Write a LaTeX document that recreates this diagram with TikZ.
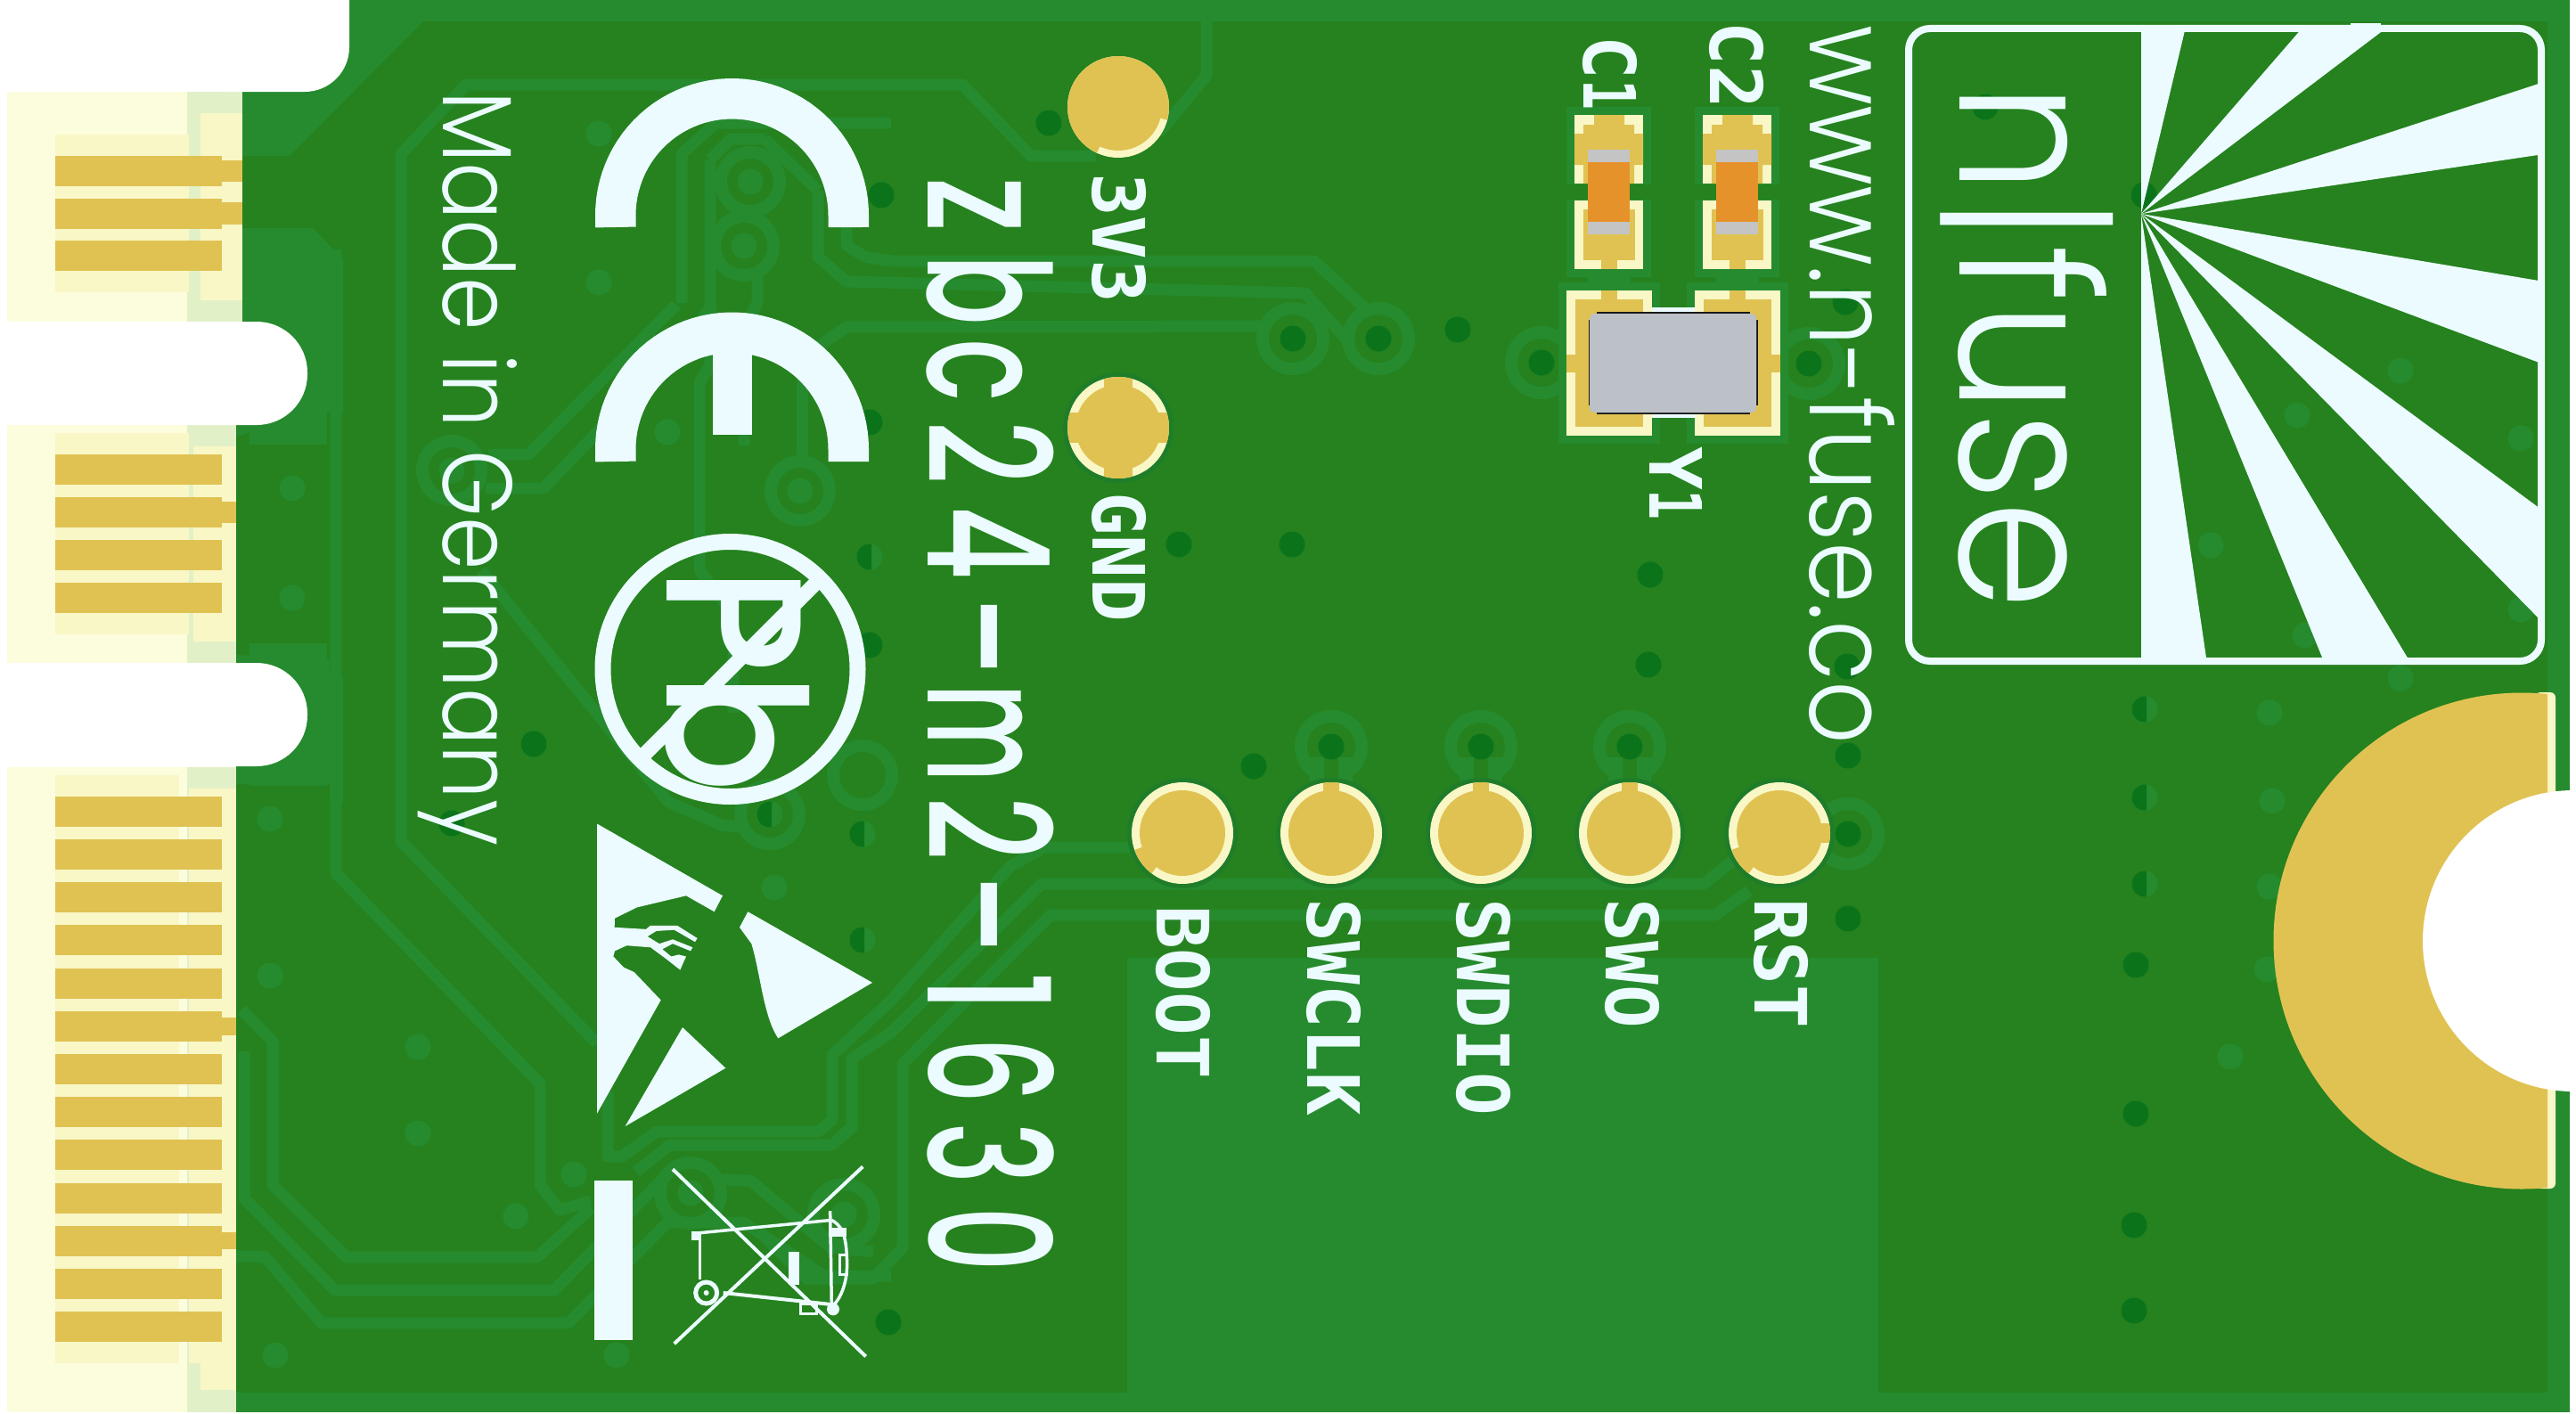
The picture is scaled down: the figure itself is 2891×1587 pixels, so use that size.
\documentclass[tikz,border=0pt]{standalone}
\usepackage{graphicx}
\usepackage{fontspec}
\newfontfamily\bigfont{Poppins Medium}
\newfontfamily\labfont{DejaVu Sans Mono}[Scale=1]
\newfontfamily\thinfont{Poppins Light}
\definecolor{bgd}{HTML}{25821E}
\definecolor{lgt}{HTML}{258B2E}
\definecolor{holec}{HTML}{0B741B}
\definecolor{halo}{HTML}{1F7D2A}
\definecolor{gold}{HTML}{E0C253}
\definecolor{pale}{HTML}{F9F7C6}
\definecolor{paler}{HTML}{FBFDDD}
\definecolor{bandc}{HTML}{E2F0C7}
\definecolor{silk}{HTML}{ECFBFF}
\definecolor{capbody}{HTML}{E6922B}
\definecolor{capend}{HTML}{C4C4C4}
\definecolor{xtal}{HTML}{BBC1C7}
\tikzset{
  trace/.style={draw=lgt,line width=13pt,line join=round},
  vtxt/.style={rotate=-90,anchor=base west,inner sep=0pt,outer sep=0pt,text=silk},
  lab/.style={vtxt,font=\labfont\bfseries\fontsize{81}{81}\selectfont},
}
\newcommand{\fit}[3]{\resizebox{#1pt}{#2pt}{#3}}
\newcommand{\bc}[3]{\makebox[#1pt][c]{\scalebox{#2}[1]{#3}}}
\newcommand{\lv}[1]{\foreach \a/\b in {#1}{\fill[lgt] (\a,\b) circle (14.5pt);}}
\newcommand{\dv}[1]{\foreach \a/\b in {#1}{\fill[holec] (\a,\b) circle (14.5pt);}}
\newcommand{\ring}[1]{\foreach \a/\b in {#1}{\fill[lgt] (\a,\b) circle (41pt);\fill[bgd] (\a,\b) circle (27pt);}}
\newcommand{\hv}[1]{\foreach \a/\b in {#1}{\fill[lgt] (\a,\b) circle (14.5pt);\begin{scope}\clip (\a-20,\b-20) rectangle (\a+2,\b+20);\fill[holec] (\a,\b) circle (14.5pt);\end{scope}}}
\newcommand{\capads}[1]{\begin{scope}[xshift=#1pt]
  \fill[lgt] (1758,120) rectangle (1853,311);
  \fill[bgd] (1758,207) rectangle (1853,224);
  \fill[lgt] (1782,302) rectangle (1830,326);
  \fill[pale] (1767,129) rectangle (1844,206);
  \fill[gold] (1789,129)--(1823,129)--(1823,140)--(1834,140)--(1834,150)--(1844,150)--(1844,185)--(1834,185)--(1834,206)--(1777,206)--(1777,185)--(1767,185)--(1767,150)--(1777,150)--(1777,140)--(1789,140)--cycle;
  \fill[pale] (1767,225) rectangle (1844,302);
  \fill[gold] (1777,235) rectangle (1835,292);
  \fill[gold] (1797,292) rectangle (1815,302);
  \fill[capbody] (1782,168) rectangle (1829,263);
  \fill[capend] (1782,168) rectangle (1829,182);
  \fill[capend] (1782,249) rectangle (1829,263);
\end{scope}}
\newcommand{\tpad}[3]{%
  \fill[halo] (#1,#2) circle (62pt);
  \fill[pale] (#1,#2) circle (57pt);
  \fill[gold] (#1,#2) circle (48pt);
  \begin{scope}\clip (#1,#2) circle (57pt); #3\end{scope}}
\begin{document}
\begin{tikzpicture}[x=1pt,y=-1pt]
\useasboundingbox (0,0) rectangle (2891,1587);
\fill[white] (0,0) rectangle (2891,1587);
% board
\fill[bgd] (265,0) rectangle (2884,1585);
\fill[lgt] (265,0) rectangle (2884,24);
\fill[lgt] (2859,0) rectangle (2884,1585);
\fill[lgt] (265,1563) rectangle (2884,1585);
\fill[lgt] (1265,1075) rectangle (2108,1563);
\fill[lgt] (392,0)--(475,24)--(325,175)--(265,175)--(265,103)--cycle;
% copper areas around the slots
\fill[lgt] (272,256)--(351,256)--(385,291)--(385,462)--(370,462)--(370,755)--(385,760)--(385,900)--(265,900)--(265,361)--(272,361)--cycle;
\fill[bgd] (265,490)--(370,462)--(370,740)--(265,735)--cycle;
\fill[bgd] (265,880)--(370,880)--(370,900)--(265,900)--cycle;
\draw[lgt,line width=44pt] (280,361)--(345,361)--(345,477)--(280,477);
\draw[lgt,line width=44pt] (280,744)--(345,744)--(345,860)--(280,860);
% traces
\path[trace] (377,280)--(377,980)--(606,1216)--(606,1330)--(628,1358)--(663,1348);
\path[trace] (1230,175)--(1157,175)--(1080,95)--(523,95)--(450,173)--(450,944)--(670,1171);
\path[trace] (1354,24)--(1354,85)--(1300,150);
\path[trace] (271,1133)--(306,1169)--(306,1330)--(389,1411)--(603,1411)--(663,1356);
\path[trace] (274,1180)--(274,1345)--(376,1448)--(622,1448)--(745,1322)--(842,1325)--(932,1400)--(980,1405);
\path[trace] (265,1410)--(297,1410)--(361,1485)--(638,1485)--(749,1372)--(835,1372)--(925,1432)--(1000,1432);
\path[trace] (682,1225)--(682,1298)--(698,1298)--(737,1270)--(918,1270)--(934,1257)--(934,1184)--(1000,1123)--(1134,972)--(1172,951)--(1268,951);
\path[trace] (714,1315)--(752,1285)--(934,1285)--(956,1265)--(956,1188)--(1000,1159)--(1169,992)--(1912,992)--(1950,962);
\path[trace] (1963,1000)--(1925,1027)--(1179,1027)--(1013,1194)--(1013,1400)--(980,1435)--(905,1435)--(850,1380);
\path[trace] (1000,293)--(1475,293)--(1533,347);
\path[trace] (918,214)--(918,288)--(950,316)--(1465,329)--(1510,380);
\path[trace] (905,398)--(950,367)--(1415,366)--(1440,380);
\path[trace] (950,250)--(950,275)--(970,288)--(1000,293);
\path[trace] (765,340)--(765,173)--(803,138)--(1000,138);
\path[trace] (858,156)--(918,214);
\path[trace] (797,179)--(820,156)--(858,156);
\path[trace] (797,179)--(797,410)--(785,430)--(785,640)--(823,690)--(823,800);
\path[trace] (759,342)--(593,510)--(548,510);
\path[trace] (900,398)--(900,540);
\path[trace] (545,548)--(610,548)--(780,370)--(800,340);
\path[trace] (540,640)--(750,900)--(810,926)--(850,930);
\path[trace] (835,276)--(850,300)--(850,340)--(835,370)--(835,500);
\foreach \a/\b in {842/204,835/276,898/551,507/528,864/914,968/870}{\fill[lgt] (\a,\b) circle (40pt);\fill[bgd] (\a,\b) circle (26pt);}
\ring{1451/380,1547/380,1730/407,1494/838,1662/838,1829/838,2030/408,2074/936,947/1363,775/1339}
\fill[lgt] (1470,850) rectangle (1518,880);\fill[lgt] (1638,850) rectangle (1686,880);\fill[lgt] (1805,850) rectangle (1853,880);
\fill[bgd] (1486,850) rectangle (1502,880);\fill[bgd] (1654,850) rectangle (1670,880);\fill[bgd] (1821,850) rectangle (1837,880);
% vias
\lv{672/150,672/317,842/204,835/276,749/485,898/551,507/528,328/548,328/671,303/919,303/1095,469/1175,469/1272,644/1318,579/1365,692/1521,309/1521,869/996,775/1339,947/1363,2547/800,2550/899,2547/995,2544/1088,2503/1186,2694/761,2694/416,2578/466,2829/492,2481/612,2829/684,2587/713}
\dv{1177/138,1451/380,1547/380,1636/370,1730/407,1323/611,1450/611,1852/645,1850/746,2228/120,2071/339,2030/408,2073/748,2074/848,2074/936,2074/1031,2397/1083,2397/1250,2395/1375,2395/1471,1494/838,1662/838,1829/838,1407/860,997/1484,989/219,976/474,976/724,507/924,599/835,2406/219}
\hv{2407/796,2407/895,2407/992,976/625,864/914,968/936,968/1055}
% card edge
\foreach \yA/\yB/\xR in {103/361/272,477/744/265,861/1585/265}{
  \fill[paler] (8,\yA) rectangle (\xR,\yB);
  \fill[bandc] (210,\yA) rectangle (\xR,\yB);
}
\fill[pale] (225,127) rectangle (272,337);
\fill[pale] (62,151) rectangle (212,328);
\fill[pale] (217,501) rectangle (265,720);
\fill[pale] (62,486) rectangle (212,712);
\fill[pale] (225,885) rectangle (265,1560);
\fill[pale] (212,885) rectangle (225,1530);
\fill[pale] (62,870) rectangle (201,1530);
\foreach \y in {175,223,270,510,558,606,654,894,942,990,1038,1087,1135,1183,1231,1279,1328,1376,1424,1472}{
  \fill[gold] (62,\y) rectangle (249,\y+34);}
\fill[gold] (249,180) rectangle (272,204);
\fill[gold] (249,227) rectangle (272,252);
\fill[gold] (249,563) rectangle (265,587);
\fill[gold] (249,1142) rectangle (265,1162);
\fill[gold] (249,1383) rectangle (265,1402);
% notches
\fill[white] (0,0) rectangle (300,103);
\fill[white,rounded corners=50pt] (200,-60)--(392,-60)--(392,103)--(200,103)--cycle;
\fill[white] (0,361) rectangle (200,477);
\fill[white,rounded corners=57pt] (150,361)--(345,361)--(345,477)--(150,477)--cycle;
\fill[white] (0,744) rectangle (200,860);
\fill[white,rounded corners=57pt] (150,744)--(345,744)--(345,860)--(150,860)--cycle;
\fill[white] (0,0) rectangle (8,1587);
% capacitors and crystal
\capads{0}
\capads{144}
\fill[lgt] (1749,317) rectangle (1863,498);
\fill[lgt] (1893,317) rectangle (2007,498);
\fill[pale] (1758,326) rectangle (1854,489);
\fill[pale] (1902,326) rectangle (1998,489);
\fill[gold] (1768,336) rectangle (1844,479);
\fill[gold] (1912,336) rectangle (1988,479);
\fill[gold] (1797,326) rectangle (1815,336);
\fill[gold] (1941,326) rectangle (1959,336);
\fill[gold] (1758,398) rectangle (1768,418);
\fill[gold] (1988,398) rectangle (1998,418);
\fill[silk] (1854,345) rectangle (1902,352);
\fill[silk] (1854,462) rectangle (1902,469);
\fill[black!90] (1783,359) rectangle (1785,455);
\fill[black!90] (1971,359) rectangle (1973,455);
\fill[black!90] (1792,350) rectangle (1964,352);
\fill[black!90] (1792,463) rectangle (1964,465);
\fill[xtal,rounded corners=5pt] (1784,352) rectangle (1971,463);
% test pads
\fill[pale] (1255,120) circle (57pt);
\fill[gold] (1255,120) circle (49pt);
\fill[gold] plot[domain=-15:245,samples=40] ({1255+57*cos(\x)},{120-57*sin(\x)}) --(1255,120)-- cycle;
\tpad{1255}{480}{\fill[gold] (1239,423) rectangle (1271,537);\fill[gold] (1198,463) rectangle (1312,497);}
\tpad{1327}{935}{\fill[gold] (1327,935)--(1270,955)--(1285,990)--cycle;}
\tpad{1494}{935}{\fill[gold] (1485,878) rectangle (1503,900);}
\tpad{1662}{935}{\fill[gold] (1653,878) rectangle (1671,900);}
\tpad{1829}{935}{\fill[gold] (1820,878) rectangle (1838,900);}
\tpad{1997}{935}{\fill[gold] (1997,935)--(1940,955)--(1955,990)--cycle;\fill[gold] (2030,924) rectangle (2056,946);}
% RF pad
\fill[pale,rounded corners=6pt] (2845,777) rectangle (2868,1334);
\begin{scope}
\clip (2500,700) rectangle (2859,1400);
\fill[gold] (2830,1056) circle (278.5pt);
\end{scope}
\fill[white] (2888,1056) circle (169pt);
\fill[white] (2884,0) rectangle (2891,1587);
% CE
\draw[silk,line width=45.5pt,line join=miter] (691,255)--plot[domain=180:0,samples=50] ({821.5+130.75*cos(\x)},{241.5-130.75*sin(\x)})--(952.25,255);
\draw[silk,line width=45.5pt] (691,518)--plot[domain=180:0,samples=50] ({821.5+130.75*cos(\x)},{504-130.75*sin(\x)})--(952.25,518);
\fill[silk] (800,370) rectangle (844,488);
% Pb
\draw[silk,line width=18pt] (819.5,751) circle (143pt);
\node[vtxt] (pbtext) at (748,636) {\fit{254}{160}{\bigfont Pb}};
\begin{scope}
\clip (819.5,751) circle (150pt);
\draw[silk,line width=16.5pt] (935,635)--(705,865);
\end{scope}
% logo
\draw[silk,line width=8pt,rounded corners=24pt] (2142,32) rectangle (2852,742);
\begin{scope}
\clip[rounded corners=22pt] (2142,32) rectangle (2852,742);
\fill[silk] (2403,240)--(2403,30)--(2453,30)--cycle;
\fill[silk] (2403,240)--(2585,30)--(2680,30)--cycle;
\fill[silk] (2403,240)--(2855,92)--(2855,173)--cycle;
\fill[silk] (2403,240)--(2855,316)--(2855,409)--cycle;
\fill[silk] (2403,240)--(2855,574)--(2855,700)--cycle;
\fill[silk] (2403,240)--(2706,745)--(2609,745)--cycle;
\fill[silk] (2403,240)--(2477,745)--(2403,745)--cycle;
\end{scope}
\fill[silk] (2638,26) rectangle (2672,34);
\node[vtxt] (logotext) at (2199,93) {\fit{590}{172}{\thinfont n\kern0.02em |\kern0.02em fuse}};
% big labels
\node[vtxt] (mdin) at (497,102) {\fit{847}{83}{\thinfont Made in Germany}};
\node[vtxt,font=\bigfont\fontsize{190}{190}\selectfont] (boardname) at (1041,182) {\bc{96}{0.70}{z}\bc{94}{0.62}{b}\bc{88}{0.62}{c}\bc{97}{0.65}{2}\bc{104}{0.68}{4}\bc{107}{0.90}{-}\bc{110}{0.56}{m}\bc{104}{0.65}{2}\bc{90}{0.90}{-}\bc{84}{0.70}{1}\bc{90}{0.62}{6}\bc{96}{0.62}{3}\bc{98}{0.60}{0}};
\node[vtxt] (website) at (2031,28) {\fit{807}{95}{\thinfont www.n-fuse.co}};
% small labels
\node[lab] (lc1) at (1777,41) {C\scalebox{0.7}[1]{1}};
\node[lab] (lc2) at (1919,25) {C2};
\node[lab] (ly1) at (1851,501) {Y\scalebox{0.7}[1]{1}};
\node[lab] (l3v3) at (1226,194) {3V3};
\node[lab] (lgnd) at (1226,552) {GND};
\node[lab] (lboot) at (1298,1016) {BOOT};
\node[lab] (lswclk) at (1467,1008) {SWCLK};
\node[lab] (lswdio) at (1635,1008) {SWDIO};
\node[lab] (lswo) at (1802,1008) {SWO};
\node[lab] (lrst) at (1969,1008) {RST};
% ESD symbol
\begin{scope}[shift={(640pt,-900pt)},x=0.33333pt,y=-0.40816pt]
\fill[silk] (90,60)--(513,258)--(485,302)--(390,258)--(225,290)--(150,320)--(149,345)--(255,350)--(270,340)--(360,340)--(428,375)--(420,385)--(350,352)--(290,355)--(260,370)--(300,390)--(345,378)--(412,400)--(405,410)--(345,390)--(310,405)--(340,425)--(365,420)--(390,425)--(370,462)--(320,430)--(270,400)--(190,395)--(150,410)--(145,425)--(180,455)--(215,468)--(305,545)--(90,857)--cycle;
\fill[silk] (598,302)--(1017,497)--(700,650)..controls (650,590) and (640,470) .. (610,390)--(570,345)--cycle;
\fill[silk] (378,620)--(523,732)--(185,892)--cycle;
\fill[silk] (82,1042) rectangle (210,1480);
\draw[silk,line width=4pt] (345,1010)--(995,1525);
\draw[silk,line width=4pt] (985,1003)--(350,1490);
\draw[silk,line width=3.5pt] (437,1185)--(880,1150);
\fill[silk] (408,1182) rectangle (440,1205);
\draw[silk,line width=3.5pt] (437,1190)--(437,1312);
\draw[silk,line width=5pt] (458,1350) circle (12pt);
\fill[silk] (458,1350) circle (3pt);
\draw[silk,line width=4pt] (515,1350)--(880,1382);
\draw[silk,line width=3.5pt] (875,1125)--(880,1385);
\draw[silk,line width=3.5pt] (880,1150)..controls (925,1170) and (930,1210) .. (932,1270)..controls (932,1330) and (905,1370) .. (885,1385);
\fill[silk] (885,1395) circle (7pt);
\fill[silk] (870,1170) rectangle (930,1195);
\draw[silk,line width=3pt] (908,1245) rectangle (930,1300);
\fill[silk] (735,1238) rectangle (770,1328);
\draw[silk,line width=3pt] (775,1380) rectangle (830,1408);
\end{scope}
\end{tikzpicture}
\end{document}
